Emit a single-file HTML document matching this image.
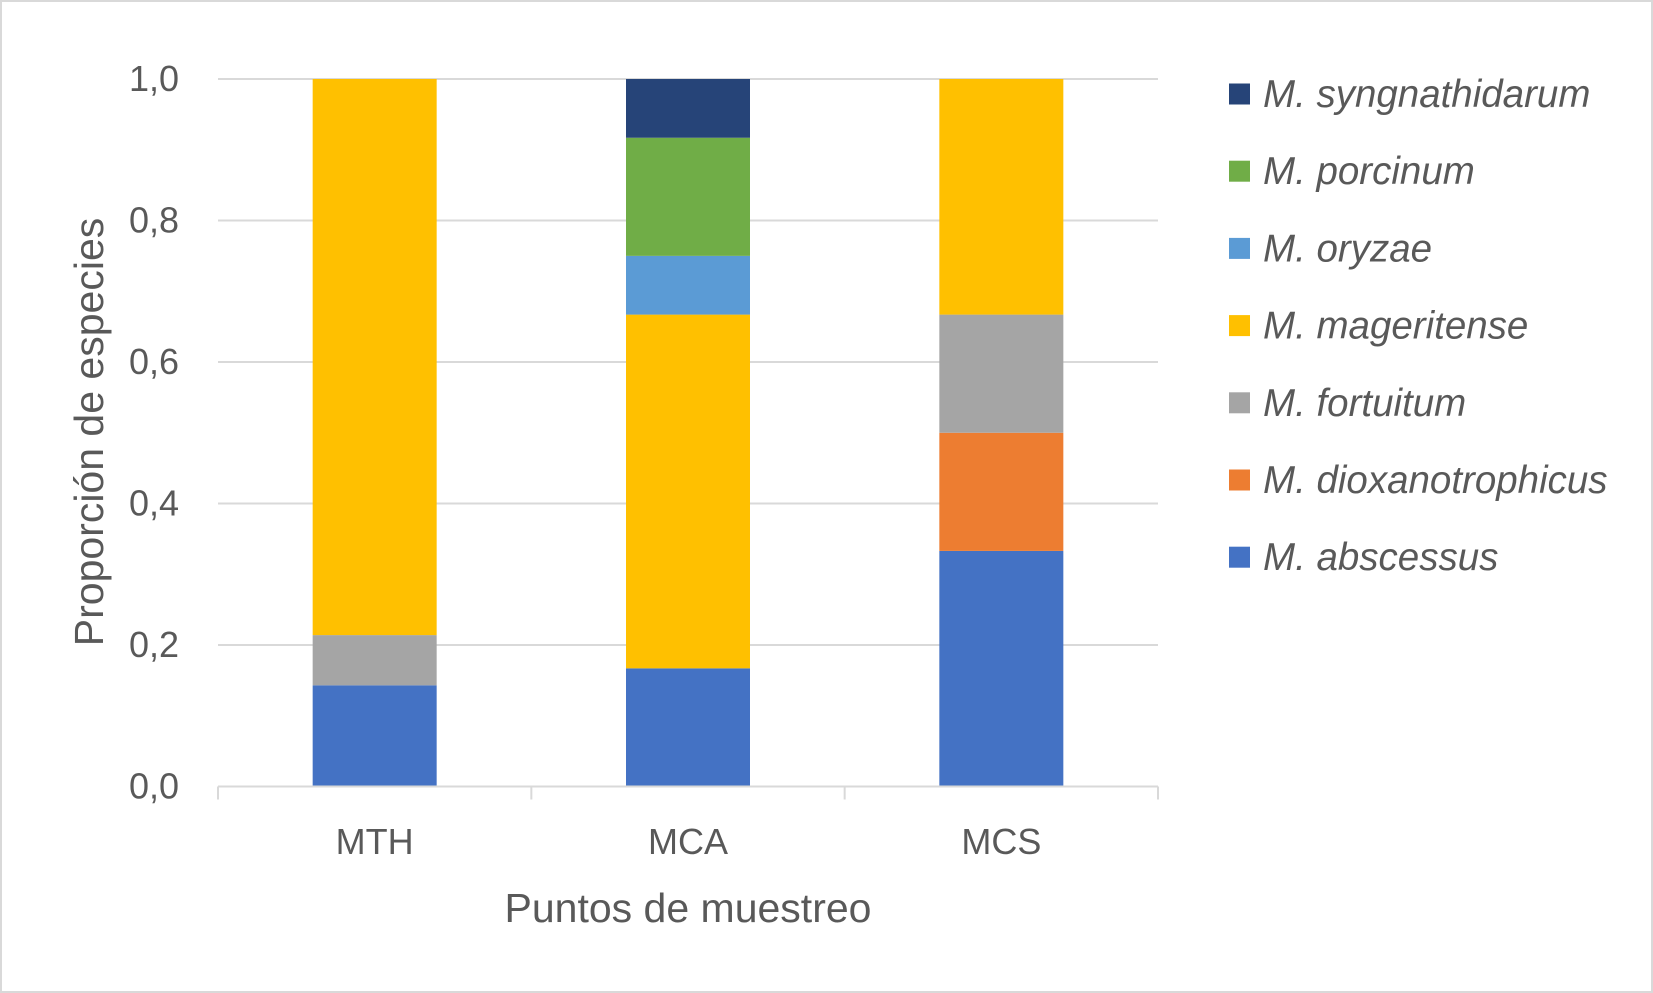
<!DOCTYPE html>
<html><head><meta charset="utf-8">
<style>
html,body{margin:0;padding:0;background:#fff;}
svg{display:block;font-family:"Liberation Sans",sans-serif;}
</style></head>
<body>
<svg id="chart" width="1653" height="993" viewBox="0 0 1653 993" xmlns="http://www.w3.org/2000/svg">
<rect x="1" y="1" width="1651" height="991" fill="#fff" stroke="#d9d9d9" stroke-width="2"/>
<g id="grid"></g>
<g id="bars"></g>
<g id="axes"></g>
<g id="legend"></g>
<text transform="translate(103,432) rotate(-90)" text-anchor="middle" font-size="41" fill="#595959">Proporción de especies</text>
<text x="688" y="922" text-anchor="middle" font-size="41" fill="#595959">Puntos de muestreo</text>
</svg>
<script>
const categories = ["MTH","MCA","MCS"];
const species = ["M. abscessus","M. dioxanotrophicus","M. fortuitum","M. mageritense","M. oryzae","M. porcinum","M. syngnathidarum"];
const colors = ["#4472C4","#ED7D31","#A5A5A5","#FFC000","#5B9BD5","#70AD47","#264478"];
const abscessus = [0.143, 0.167, 0.333];
const dioxanotrophicus = [0, 0, 0.167];
const fortuitum = [0.071, 0, 0.167];
const mageritense = [0.786, 0.5, 0.333];
const oryzae = [0, 0.083, 0];
const porcinum = [0, 0.167, 0];
const syngnathidarum = [0, 0.083, 0];
const yTicks = ["0,0","0,2","0,4","0,6","0,8","1,0"];
const tickValues = [0,0.2,0.4,0.6,0.8,1.0];

const series = [abscessus,dioxanotrophicus,fortuitum,mageritense,oryzae,porcinum,syngnathidarum];
const NS="http://www.w3.org/2000/svg";
const x0=218, x1=1158, y0=786.5, y1=79;
const yS=v=>y0-(y0-y1)*v;
const band=(x1-x0)/categories.length, bw=124;
function mk(tag,attrs,parent){const e=document.createElementNS(NS,tag);for(const k in attrs)e.setAttribute(k,attrs[k]);parent.appendChild(e);return e;}
const grid=document.getElementById('grid'),bars=document.getElementById('bars'),axes=document.getElementById('axes'),legend=document.getElementById('legend');
tickValues.forEach((v,i)=>{
  if(v>0){const l=mk('line',{x1:x0,x2:x1,y1:yS(v),y2:yS(v),stroke:'#d9d9d9','stroke-width':2},grid);
  
  }
  const t=mk('text',{x:179,y:yS(v)+12,'text-anchor':'end','font-size':36,fill:'#595959'},axes);
  t.textContent=yTicks[i];
  
  
});
const ax=mk('line',{x1:x0,x2:x1,y1:y0,y2:y0,stroke:'#d9d9d9','stroke-width':2},axes);


for(let i=0;i<=categories.length;i++){
  const tk=mk('line',{x1:x0+band*i,x2:x0+band*i,y1:y0,y2:y0+13,stroke:'#d9d9d9','stroke-width':2},axes);
  
  
}
categories.forEach((c,i)=>{
  const cx=x0+band*(i+0.5);
  let cum=0;
  series.forEach((s,j)=>{
    const v=s[i]; if(v<=0) return;
    const r=mk('rect',{x:cx-bw/2,y:yS(cum+v),width:bw,height:yS(cum)-yS(cum+v),fill:colors[j]},bars);
    
    
    cum+=v;
  });
  const t=mk('text',{x:cx,y:854,'text-anchor':'middle','font-size':36,fill:'#595959'},axes);
  t.textContent=c;
  
  
});
for(let k=species.length-1;k>=0;k--){
  const row=species.length-1-k, y=94+row*77.2;
  const g=mk('g',{},legend);
  
  
  mk('rect',{x:1229,y:y-10.5,width:21,height:21,fill:colors[k]},g);
  const t=mk('text',{x:1263,y:y+13,'font-size':38.5,'font-style':'italic',fill:'#595959'},g);
  t.textContent=species[k];
}
</script>
</body></html>
